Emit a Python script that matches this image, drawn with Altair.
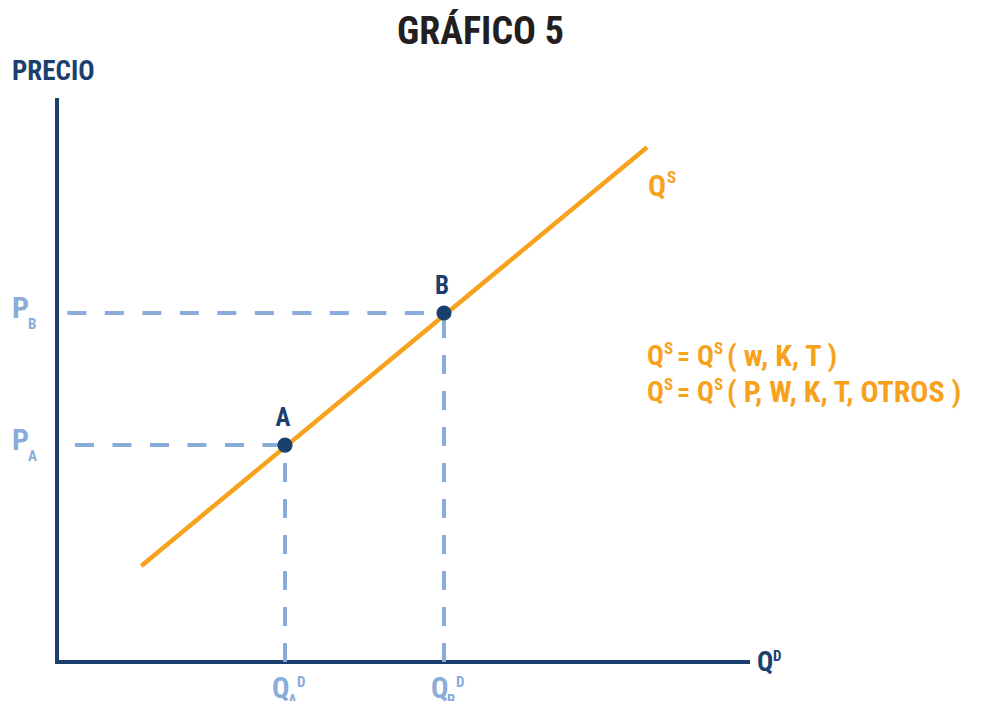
import altair as alt
import pandas as pd

NAVY = "#1b3f6e"
ORANGE = "#f7a21c"
LIGHT = "#8aacda"
TITLE_C = "#231f20"
FONT = "Roboto Condensed, Liberation Sans Narrow, Roboto, sans-serif"

# ---- diagram values (conceptual units, 0-100 on both axes) ----
point_names = ["A", "B"]
point_q = [33.0, 56.0]
point_p = [38.6, 62.1]
supply_q = [12.2, 85.4]
supply_p = [17.1, 91.6]
guide_start_q = [2.6, 1.5]
Q_MAX = 100
P_MAX = 100

W, H = 691, 562
KX, KY = W / Q_MAX, H / P_MAX

xs = alt.Scale(domain=[0, Q_MAX])
ys = alt.Scale(domain=[0, P_MAX])


def off(q, p, dx, dy):
    """anchor in data units plus a pixel offset"""
    return q + dx / KX, p - dy / KY


def X(f="q"):
    return alt.X(f"{f}:Q", scale=xs, axis=None)


def Y(f="p"):
    return alt.Y(f"{f}:Q", scale=ys, axis=None)


# axes drawn as rules
xaxis_df = pd.DataFrame({"q": [0], "q2": [Q_MAX], "p": [0]})
yaxis_df = pd.DataFrame({"q": [0], "p": [0], "p2": [P_MAX]})
xaxis = alt.Chart(xaxis_df).mark_rule(color=NAVY, strokeWidth=4, strokeCap="square").encode(
    x=X(), x2="q2:Q", y=Y())
yaxis = alt.Chart(yaxis_df).mark_rule(color=NAVY, strokeWidth=4, strokeCap="square").encode(
    x=X(), y=Y(), y2="p2:Q")

# dashed guides
h_df = pd.DataFrame({"q": guide_start_q, "q2": point_q, "p": point_p})
v_df = pd.DataFrame({"q": point_q, "p": [0, 0], "p2": point_p})
hguides = alt.Chart(h_df).mark_rule(color=LIGHT, strokeWidth=4, strokeDash=[19, 18.5]).encode(
    x=X(), x2="q2:Q", y=Y())
vguides = alt.Chart(v_df).mark_rule(color=LIGHT, strokeWidth=4, strokeDash=[19, 17]).encode(
    x=X(), y=Y(), y2="p2:Q")

supply_df = pd.DataFrame({"q": supply_q, "p": supply_p})
supply = alt.Chart(supply_df).mark_line(color=ORANGE, strokeWidth=4.5, strokeCap="butt").encode(
    x=X(), y=Y())

pts_df = pd.DataFrame({"name": point_names, "q": point_q, "p": point_p})
pts = alt.Chart(pts_df).mark_circle(color=NAVY, size=230, opacity=1).encode(x=X(), y=Y())

# point letters (centered above points)
lab_q, lab_p = zip(*[off(q, p, -2, -27) for q, p in zip(point_q, point_p)])
lab_df = pd.DataFrame({"t": point_names, "q": lab_q, "p": lab_p})
letters = alt.Chart(lab_df).mark_text(
    font=FONT, fontWeight="bold", fontSize=25, color=NAVY, align="center", baseline="middle"
).encode(x=X(), y=Y(), text="t:N")

# left-aligned annotation pieces
rows = []


def add(text, q, p, dx, dy, size, color):
    qq, pp = off(q, p, dx, dy)
    rows.append({"t": text, "q": qq, "p": pp, "s": size, "c": color})


(qa, qb), (pa, pb) = point_q, point_p
add("PRECIO", 0, P_MAX, -45, -28, 27, NAVY)
for sub, pv in (("A", pa), ("B", pb)):
    add("P", 0, pv, -45, -4, 30, LIGHT)
    add(sub, 0, pv, -29, 11, 15, LIGHT)
for sub, qv in (("A", qa), ("B", qb)):
    add("Q", qv, 0, -13, 27, 29, LIGHT)
    add(sub, qv, 0, 3, 38, 15, LIGHT)
    add("D", qv, 0, 12, 20, 15, LIGHT)
add("Q", Q_MAX, 0, 9, 1, 27, NAVY)
add("D", Q_MAX, 0, 25, -6, 15, NAVY)

eq, ep = supply_q[1], supply_p[1]
add("Q", eq, ep, 1, 40, 30, ORANGE)
add("S", eq, ep, 20, 31, 17, ORANGE)
for dy, tail in ((210, "( w, K, T )"), (246, "( P, W, K, T, OTROS )")):
    add("Q", eq, ep, 0, dy, 28, ORANGE)
    add("S", eq, ep, 17, dy - 8, 17, ORANGE)
    add("=", eq, ep, 30, dy, 26, ORANGE)
    add("Q", eq, ep, 50, dy, 28, ORANGE)
    add("S", eq, ep, 67, dy - 8, 17, ORANGE)
    add(tail, eq, ep, 80, dy, 30, ORANGE)

ann = alt.Chart(pd.DataFrame(rows)).mark_text(
    font=FONT, fontWeight="bold", align="left", baseline="middle"
).encode(
    x=X(), y=Y(),
    text="t:N", size=alt.Size("s:Q", scale=None), color=alt.Color("c:N", scale=None))

chart = alt.layer(xaxis, yaxis, hguides, vguides, supply, pts, letters, ann).properties(
    width=W, height=H,
    title=alt.TitleParams("GRÁFICO 5", font=FONT, fontSize=38, fontWeight="bold",
                          color=TITLE_C, anchor="middle", frame="group", dx=78, offset=6),
    autosize=alt.AutoSizeParams(type="none"),
    padding={"left": 49, "top": 92, "right": 242, "bottom": 39},
    background="white",
).configure_view(stroke=None)

chart.save("out.html", embed_options={"renderer": "svg", "actions": False})
